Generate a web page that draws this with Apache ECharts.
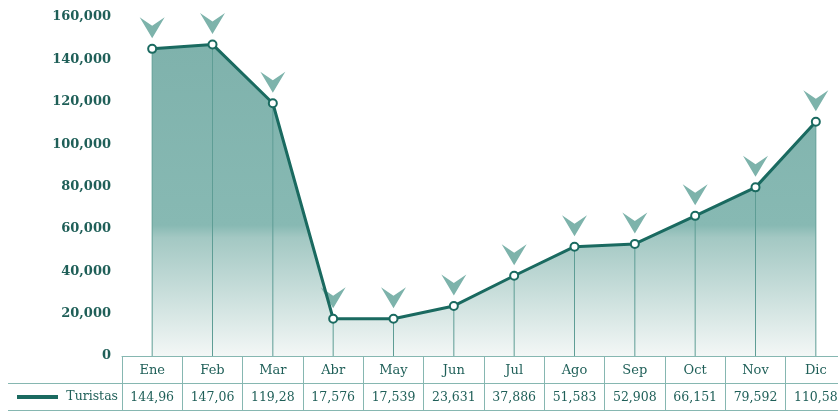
<!DOCTYPE html>
<html>
<head>
<meta charset="utf-8">
<script src="https://cdn.jsdelivr.net/npm/echarts@6/dist/echarts.min.js"></script>
<style>
  html, body { margin: 0; padding: 0; background: #ffffff; overflow: hidden; }
  #chart { width: 860px; height: 413px; }
</style>
</head>
<body>
<div id="chart"></div>
<script>
// Monthly tourist arrivals
const months = ['Ene', 'Feb', 'Mar', 'Abr', 'May', 'Jun', 'Jul', 'Ago', 'Sep', 'Oct', 'Nov', 'Dic'];
const turistas = [144960, 147060, 119280, 17576, 17539, 23631, 37886, 51583, 52908, 66151, 79592, 110580];
const yTicks = [0, 20000, 40000, 60000, 80000, 100000, 120000, 140000, 160000];

const DARK = '#1a6a60';
const TEXT = '#1f5f58';
const GRIDLINE = '#86b7b1';
const SERIF = '"DejaVu Serif", "Liberation Serif", serif';

const fmt = v => String(v).replace(/\B(?=(\d{3})+(?!\d))/g, ',');
// data-table cells only fit six characters
const cell = v => fmt(v).slice(0, 6);

const chart = echarts.init(document.getElementById('chart'), null, { renderer: 'canvas' });

const GRID_LEFT = 122, GRID_TOP = 17, GRID_H = 339, GRID_W = 724;
const AXIS_Y = GRID_TOP + GRID_H;

chart.setOption({
  animation: false,
  backgroundColor: '#ffffff',
  grid: { left: GRID_LEFT, top: GRID_TOP, width: GRID_W, height: GRID_H },
  xAxis: [
    {
      type: 'category',
      data: months,
      position: 'bottom',
      axisLine: { show: true, lineStyle: { color: GRIDLINE, width: 1 } },
      axisTick: { show: true, interval: 0, length: 54, lineStyle: { color: GRIDLINE, width: 1 } },
      axisLabel: { margin: 8, color: TEXT, fontFamily: SERIF, fontSize: 13 }
    },
    {
      type: 'category',
      data: turistas.map(cell),
      position: 'bottom',
      offset: 27,
      axisLine: { show: false },
      axisTick: { show: false },
      axisLabel: { margin: 8, color: TEXT, fontFamily: SERIF, fontSize: 12.5 }
    }
  ],
  yAxis: {
    type: 'value',
    min: yTicks[0],
    max: yTicks[yTicks.length - 1],
    interval: yTicks[1] - yTicks[0],
    axisLine: { show: false },
    axisTick: { show: false },
    splitLine: { show: false },
    axisLabel: {
      margin: 11,
      color: TEXT,
      fontFamily: SERIF,
      fontWeight: 'bold',
      fontSize: 13,
      formatter: v => fmt(v)
    }
  },
  series: [
    {
      // shaded area under the line
      type: 'line',
      data: turistas,
      xAxisIndex: 0,
      z: 1,
      symbol: 'none',
      lineStyle: { width: 0 },
      areaStyle: {
        opacity: 1,
        color: new echarts.graphic.LinearGradient(0, 0, 0, 1, [
          { offset: 0, color: '#7fb2ac' },
          { offset: 0.58, color: '#87b9b3' },
          { offset: 0.62, color: '#a3c8c3' },
          { offset: 1, color: '#f3f7f6' }
        ])
      }
    },
    {
      // drop lines from each point to the axis
      type: 'bar',
      data: turistas,
      xAxisIndex: 0,
      z: 2,
      barWidth: 1,
      itemStyle: { color: '#5e9d95' }
    },
    {
      // chevron markers above every point
      type: 'scatter',
      data: turistas,
      xAxisIndex: 0,
      z: 3,
      symbol: 'path://M0,0 L12.5,8.5 L25,0 L12.5,21 Z',
      symbolSize: [25, 21],
      symbolOffset: [0, -21],
      itemStyle: { color: '#7db3ab', opacity: 1 }
    },
    {
      name: 'Turistas',
      type: 'line',
      data: turistas,
      xAxisIndex: 0,
      z: 4,
      symbol: 'circle',
      symbolSize: 8,
      showAllSymbol: true,
      lineStyle: { color: DARK, width: 3 },
      itemStyle: { color: '#ffffff', borderColor: DARK, borderWidth: 2 }
    }
  ],
  graphic: [
    { type: 'line', shape: { x1: 8, y1: AXIS_Y + 27.5, x2: 860, y2: AXIS_Y + 27.5 }, style: { stroke: GRIDLINE, lineWidth: 1 } },
    { type: 'line', shape: { x1: 8, y1: AXIS_Y + 54.5, x2: 860, y2: AXIS_Y + 54.5 }, style: { stroke: GRIDLINE, lineWidth: 1 } },
    { type: 'line', shape: { x1: 17, y1: AXIS_Y + 41, x2: 58, y2: AXIS_Y + 41 }, style: { stroke: DARK, lineWidth: 4 } },
    {
      type: 'text',
      x: 118, y: AXIS_Y + 41,
      style: {
        text: 'Turistas', fill: TEXT, font: '12.5px ' + SERIF,
        textAlign: 'right', textVerticalAlign: 'middle'
      }
    }
  ]
});
</script>
</body>
</html>
